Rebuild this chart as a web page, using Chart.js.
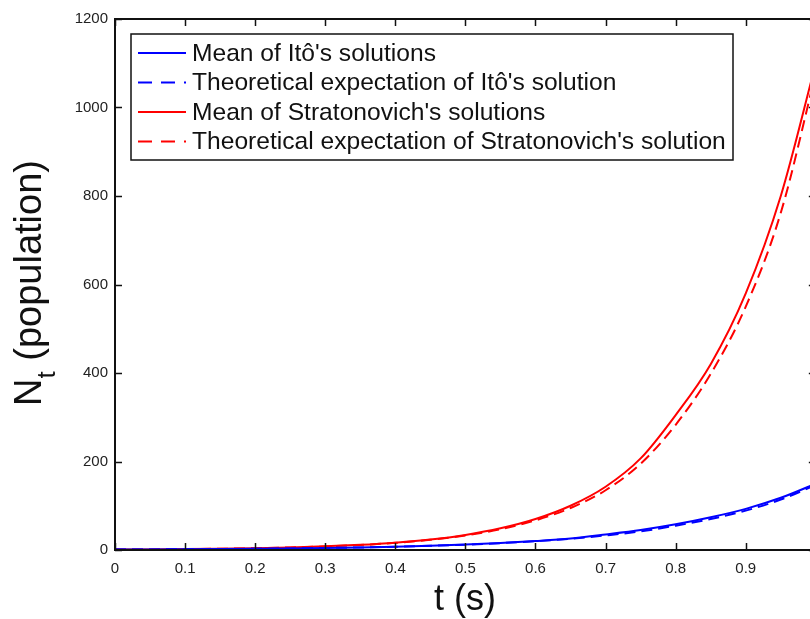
<!DOCTYPE html>
<html>
<head>
<meta charset="utf-8">
<script src="https://cdn.jsdelivr.net/npm/chart.js@4/dist/chart.umd.min.js"></script>
<style>
  html, body { margin: 0; padding: 0; background: #fff; overflow: hidden; }
  #wrap { width: 830px; height: 619px; position: relative; }
  canvas { display: block; }
</style>
</head>
<body>
<div id="wrap"><canvas id="c" width="830" height="619" style="width:830px;height:619px"></canvas></div>
<script>
// ---- data ----
const tValues = [0, 0.05, 0.1, 0.15, 0.2, 0.25, 0.3, 0.35, 0.4, 0.45, 0.5, 0.55, 0.6, 0.65, 0.7, 0.75, 0.8, 0.85, 0.9, 0.95, 1.0];
const itoMean = [1, 1.28, 1.65, 2.12, 2.72, 3.5, 4.5, 5.75, 7.4, 9.5, 12.2, 15.7, 20.3, 26, 35, 45, 58, 74, 93, 118, 150];
const itoTheory = [1, 1.28, 1.65, 2.1, 2.7, 3.5, 4.5, 5.7, 7.4, 9.4, 12.1, 15.5, 20, 25.5, 33, 42, 55, 70, 89, 114, 147];
const stratMean = [1, 1.4, 2.0, 2.9, 4.1, 5.8, 8.2, 11.6, 16.5, 23.5, 34, 49, 70, 100, 143, 207, 305, 420, 580, 800, 1100];
const stratTheory = [1, 1.4, 2.0, 2.85, 4.0, 5.7, 8.1, 11.4, 16.2, 23, 33, 47, 67, 95, 135, 195, 283, 398, 550, 762, 1078];
const seriesLabels = [
  "Mean of Itô's solutions",
  "Theoretical expectation of Itô's solution",
  "Mean of Stratonovich's solutions",
  "Theoretical expectation of Stratonovich's solution"
];
const xTickLabels = ["0", "0.1", "0.2", "0.3", "0.4", "0.5", "0.6", "0.7", "0.8", "0.9", "1"];
const yTickLabels = ["0", "200", "400", "600", "800", "1000", "1200"];
const xTitle = "t (s)";
const yTitleMain = "N";
const yTitleSub = "t";
const yTitleRest = " (population)";

const FONT = "'Liberation Sans', Arial, Helvetica, sans-serif";
const BLUE = "#0000ff";
const RED = "#ff0000";

function pts(ys) { return tValues.map((t, i) => ({ x: t, y: ys[i] })); }

const datasets = [
  { label: seriesLabels[0], data: pts(itoMean), borderColor: BLUE, borderWidth: 2, borderDash: [] },
  { label: seriesLabels[1], data: pts(itoTheory), borderColor: BLUE, borderWidth: 2, borderDash: [11, 6] },
  { label: seriesLabels[2], data: pts(stratMean), borderColor: RED, borderWidth: 2, borderDash: [] },
  { label: seriesLabels[3], data: pts(stratTheory), borderColor: RED, borderWidth: 2, borderDash: [11, 6] }
].map(d => Object.assign(d, { pointRadius: 0, fill: false, cubicInterpolationMode: 'monotone', backgroundColor: d.borderColor }));

const framePlugin = {
  id: 'frame',
  afterDatasetsDraw(chart) {
    const ctx = chart.ctx, a = chart.chartArea;
    const xs = chart.scales.x, ys = chart.scales.y;
    ctx.save();
    ctx.strokeStyle = '#111';
    ctx.lineWidth = 2;
    ctx.strokeRect(a.left, a.top, a.right - a.left, a.bottom - a.top);
    ctx.lineWidth = 1.5;
    const L = 7;
    ctx.beginPath();
    xs.ticks.forEach(t => {
      const x = Math.round(xs.getPixelForValue(t.value)) + 0.5;
      ctx.moveTo(x, a.bottom); ctx.lineTo(x, a.bottom - L);
      ctx.moveTo(x, a.top); ctx.lineTo(x, a.top + L);
    });
    ys.ticks.forEach(t => {
      const y = Math.round(ys.getPixelForValue(t.value)) + 0.5;
      ctx.moveTo(a.left, y); ctx.lineTo(a.left + L, y);
      ctx.moveTo(a.right, y); ctx.lineTo(a.right - L, y);
    });
    ctx.stroke();
    ctx.restore();
  },
  afterDraw(chart) {
    const ctx = chart.ctx;
    ctx.save();
    // x title
    ctx.fillStyle = '#111';
    ctx.font = `36px ${FONT}`;
    ctx.textAlign = 'center';
    ctx.textBaseline = 'alphabetic';
    ctx.fillText(xTitle, 465, 610);
    // y title with subscript
    ctx.translate(41, 283);
    ctx.rotate(-Math.PI / 2);
    ctx.textAlign = 'left';
    const mainF = `38px ${FONT}`, subF = `26px ${FONT}`;
    ctx.font = mainF; const wN = ctx.measureText(yTitleMain).width;
    const wR = ctx.measureText(yTitleRest).width;
    ctx.font = subF; const wS = ctx.measureText(yTitleSub).width;
    const total = wN + wS + wR;
    let x0 = -total / 2;
    ctx.font = mainF; ctx.fillText(yTitleMain, x0, 0); x0 += wN;
    ctx.font = subF; ctx.fillText(yTitleSub, x0, 14); x0 += wS;
    ctx.font = mainF; ctx.fillText(yTitleRest, x0, 0);
    ctx.restore();

    // legend box
    ctx.save();
    const bx = 131, by = 34, bw = 602, bh = 126;
    ctx.fillStyle = '#fff';
    ctx.fillRect(bx, by, bw, bh);
    ctx.strokeStyle = '#111';
    ctx.lineWidth = 1.5;
    ctx.strokeRect(bx, by, bw, bh);
    const rows = [53, 82.5, 112, 141.5];
    ctx.font = `24.6px ${FONT}`;
    ctx.textBaseline = 'middle';
    ctx.textAlign = 'left';
    chart.data.datasets.forEach((d, i) => {
      const y = rows[i];
      ctx.strokeStyle = d.borderColor;
      ctx.lineWidth = 2;
      ctx.setLineDash(d.borderDash.length ? [14, 9] : []);
      ctx.beginPath();
      ctx.moveTo(138, y); ctx.lineTo(186, y);
      ctx.stroke();
      ctx.setLineDash([]);
      ctx.fillStyle = '#111';
      ctx.fillText(d.label, 192, y + 1);
    });
    ctx.restore();
  }
};

new Chart(document.getElementById('c'), {
  type: 'line',
  data: { datasets },
  options: {
    responsive: false,
    animation: false,
    devicePixelRatio: 1,
    layout: { padding: { top: 19, right: 0, left: 0, bottom: 0 } },
    plugins: { legend: { display: false }, tooltip: { enabled: false } },
    scales: {
      x: {
        type: 'linear', min: 0, max: 1,
        afterFit(s) { s.height = 69; },
        grid: { display: false, drawTicks: false },
        border: { display: false },
        ticks: {
          stepSize: 0.1, padding: 10, color: '#222', maxRotation: 0,
          font: { family: FONT, size: 15 },
          callback: (v, i) => xTickLabels[i]
        }
      },
      y: {
        type: 'linear', min: 0, max: 1200,
        afterFit(s) { s.width = 115; },
        grid: { display: false, drawTicks: false },
        border: { display: false },
        ticks: {
          stepSize: 200, padding: 7, color: '#222',
          font: { family: FONT, size: 15 },
          callback: (v, i) => yTickLabels[i]
        }
      }
    }
  },
  plugins: [framePlugin]
});
</script>
</body>
</html>
